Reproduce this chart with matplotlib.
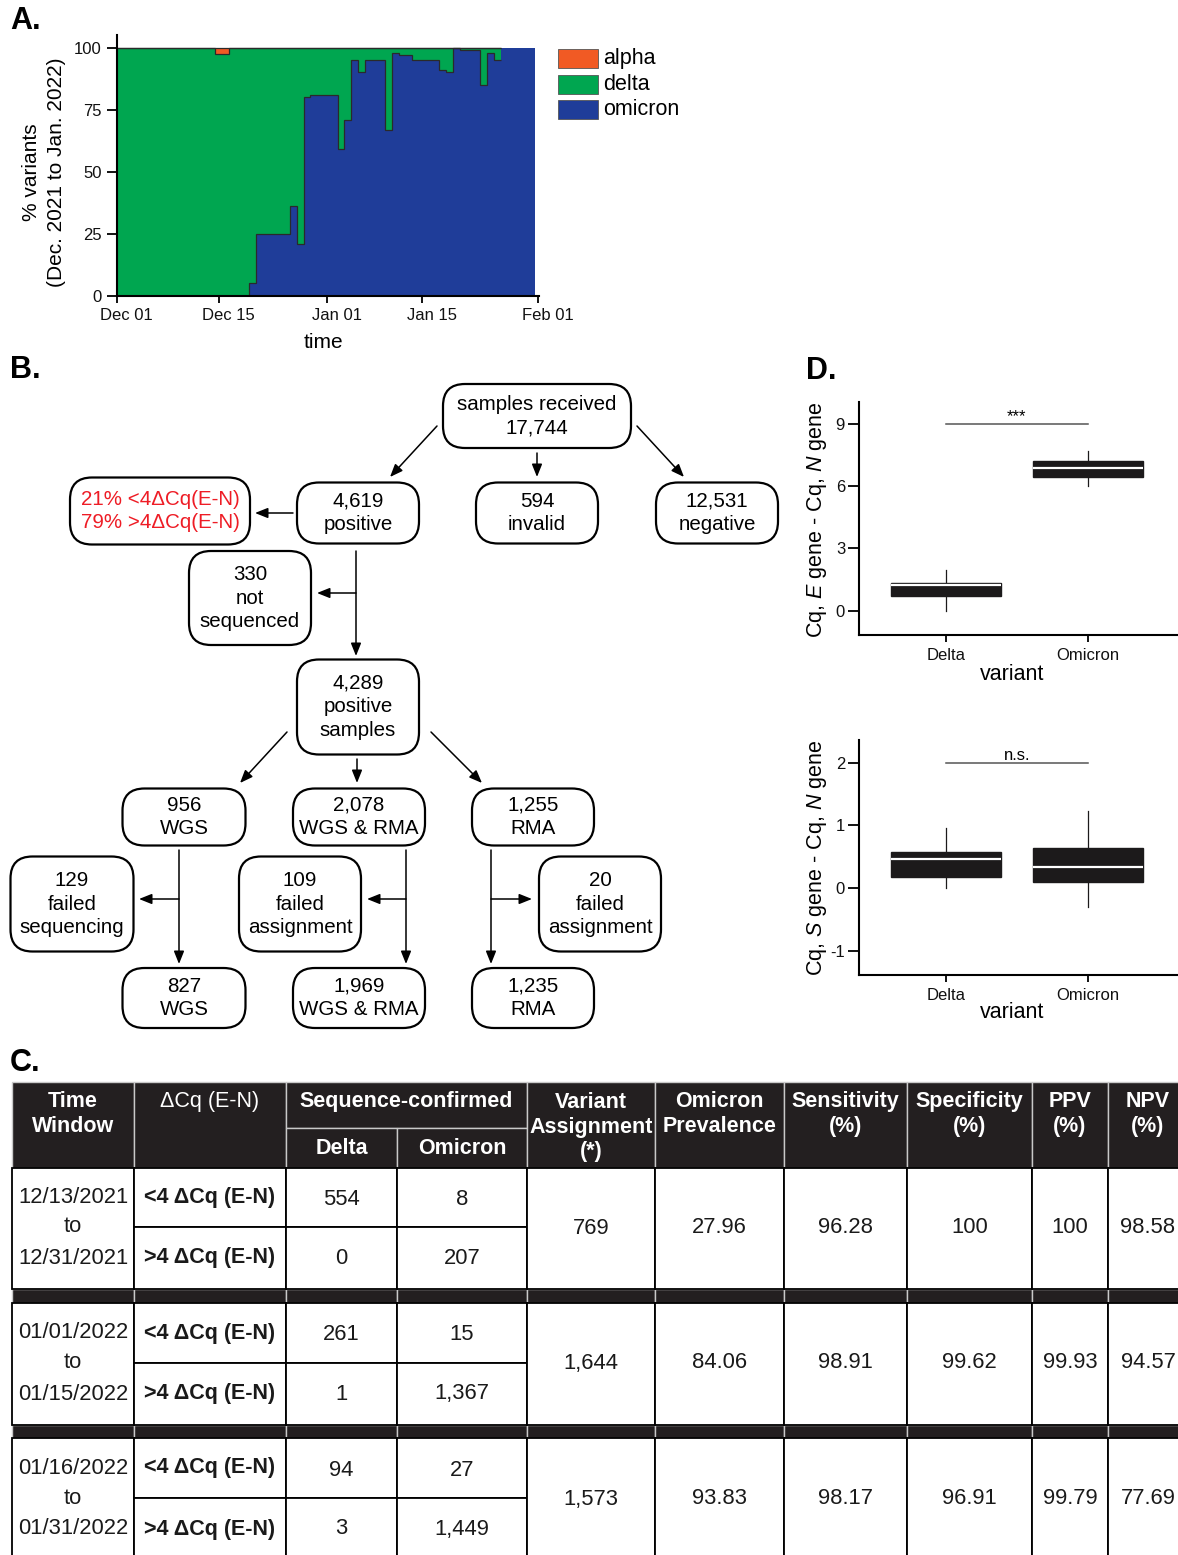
import matplotlib

matplotlib.use("Agg")
import matplotlib.pyplot as plt
import numpy as np
from matplotlib.patches import FancyBboxPatch, Rectangle
from matplotlib.transforms import ScaledTranslation

plt.rcParams["font.family"] = ["Liberation Sans", "DejaVu Sans"]
plt.rcParams["mathtext.fontset"] = "custom"
plt.rcParams["mathtext.rm"] = "Liberation Sans"
plt.rcParams["mathtext.it"] = "Liberation Sans:italic"
plt.rcParams["axes.unicode_minus"] = False

W, H = 1178, 1555

# ---------------- panel A: daily variant share (%), days since Dec 01
day_ticks = [0, 15, 31, 45, 62]
day_labels = ["Dec 01", "Dec 15", "Jan 01", "Jan 15", "Feb 01"]
omicron_pct = np.array([
    0, 0, 0, 0, 0, 0, 0, 0, 0, 0,
    0, 0, 0, 0, 0, 0, 0, 0, 0, 0,
    5, 25, 25, 25, 25, 25, 36, 21, 80, 81,
    81, 81, 81, 59, 71, 95, 90, 95, 95, 95,
    67, 98, 97, 97, 95, 95, 95, 95, 91, 90,
    100, 99, 99, 99, 85, 98, 95, 100, 100, 100,
    100, 100,
], dtype=float)
alpha_pct = np.array([
    0, 0, 0, 0, 0, 0, 0, 0, 0, 0,
    0, 0, 0, 0, 0, 2.7, 2.7, 0, 0, 0,
    0, 0, 0, 0, 0, 0, 0, 0, 0, 0,
    0, 0, 0, 0, 0, 0, 0, 0, 0, 0,
    0, 0, 0, 0, 0, 0, 0, 0, 0, 0,
    0, 0, 0, 0, 0, 0, 0, 0, 0, 0,
    0, 0,
], dtype=float)
delta_pct = 100 - omicron_pct - alpha_pct
variant_names = ["alpha", "delta", "omicron"]
variant_colors = ["#F15A24", "#00A650", "#1F3D99"]

# ---------------- panel B: sample flow counts
received, positive, invalid, negative = 17744, 4619, 594, 12531
pct_low, pct_high = 21, 79
not_sequenced, pos_samples = 330, 4289
wgs, wgs_rma, rma = 956, 2078, 1255
failed_wgs, failed_both, failed_rma = 129, 109, 20
final_wgs, final_both, final_rma = 827, 1969, 1235

# ---------------- panel C: table
windows = [("12/13/2021", "12/31/2021"), ("01/01/2022", "01/15/2022"),
           ("01/16/2022", "01/31/2022")]
delta_low = [554, 261, 94]
omicron_low = [8, 15, 27]
delta_high = [0, 1, 3]
omicron_high = [207, 1367, 1449]
assigned = [769, 1644, 1573]
prevalence = [27.96, 84.06, 93.83]
sensitivity = [96.28, 98.91, 98.17]
specificity = [100, 99.62, 96.91]
ppv = [100, 99.93, 99.79]
npv = [98.58, 94.57, 77.69]

# ---------------- panel D: box statistics (q1, median, q3, whisker lo, whisker hi)
box_variants = ["Delta", "Omicron"]
en_stats = [(0.71, 1.22, 1.35, 0.0, 1.96), (6.46, 6.88, 7.22, 6.01, 7.72)]
sn_stats = [(0.18, 0.455, 0.58, 0.0, 0.95), (0.10, 0.33, 0.635, -0.31, 1.23)]


fig = plt.figure(figsize=(W / 100, H / 100), dpi=100)
ov = fig.add_axes([0, 0, 1, 1])
ov.set_xlim(0, W)
ov.set_ylim(H, 0)
ov.axis("off")


def px_axes(x0, y0, x1, y1):
    return fig.add_axes([x0 / W, 1 - y1 / H, (x1 - x0) / W, (y1 - y0) / H])


def style_spines(ax):
    for s in ("top", "right"):
        ax.spines[s].set_visible(False)
    for s in ("left", "bottom"):
        ax.spines[s].set_linewidth(1.5)
    ax.tick_params(direction="out", width=1.4, labelsize=12, colors="#111")


# ---- A
axA = px_axes(116.7, 35, 539.3, 295.7)
edges = np.concatenate([[0], np.arange(len(omicron_pct)) + 0.5])
top = omicron_pct + delta_pct
axA.stairs(omicron_pct, edges, baseline=0, fill=True, color=variant_colors[2], lw=0)
axA.stairs(top, edges, baseline=omicron_pct, fill=True, color=variant_colors[1], lw=0)
axA.stairs(top + alpha_pct, edges, baseline=top, fill=True, color=variant_colors[0], lw=0)
n_out = 57
for vals in (omicron_pct, top, top + alpha_pct):
    axA.stairs(vals[:n_out], edges[:n_out + 1], baseline=None, color="#2a2a2a", lw=0.9)
axA.set_xlim(0, 62.2)
axA.set_ylim(0, 105.1)
axA.set_xticks(day_ticks, day_labels)
axA.set_yticks([0, 25, 50, 75, 100])
style_spines(axA)
axA.tick_params(axis="y", length=7, pad=4)
axA.tick_params(axis="x", length=5, pad=4)
# tick labels in the source sit a little right of their ticks
shift = ScaledTranslation(0.10, 0, fig.dpi_scale_trans)
for lab in axA.get_xticklabels():
    lab.set_transform(lab.get_transform() + shift)

ov.text(44, 172, "% variants\n(Dec. 2021 to Jan. 2022)", rotation=90,
        ha="center", va="center", fontsize=15, linespacing=1.45)
ov.text(323, 342, "time", ha="center", va="center", fontsize=15)
for i, (name, col) in enumerate(zip(variant_names, variant_colors)):
    y = 49 + i * 25.5
    ov.add_patch(Rectangle((558, y), 40, 19, fc=col, ec="#555", lw=0.6))
    ov.text(603, y + 9.5, name, ha="left", va="center", fontsize=15.5)

# ---- D
def box_panel(ax, stats, ylim, yticks, sig_y, sig_text):
    bx = [dict(q1=q1, med=m, q3=q3, whislo=lo, whishi=hi, fliers=[])
          for q1, m, q3, lo, hi in stats]
    ax.bxp(bx, positions=[1, 2], widths=0.77, patch_artist=True, showcaps=False,
           showfliers=False,
           boxprops=dict(facecolor="#1c1a1b", edgecolor="#1c1a1b", lw=1),
           medianprops=dict(color="white", lw=1.6),
           whiskerprops=dict(color="#1c1a1b", lw=0.9))
    ax.plot([1, 2], [sig_y, sig_y], color="#555", lw=1.1)
    ax.text(1.5, sig_y, sig_text, ha="center", va="bottom", fontsize=12)
    ax.set_xlim(0.39, 2.63)
    ax.set_ylim(*ylim)
    ax.set_yticks(yticks)
    ax.set_xticks([1, 2], box_variants)
    style_spines(ax)
    ax.tick_params(axis="y", length=8, pad=2)
    ax.tick_params(axis="x", length=5, pad=4)


axD1 = px_axes(859, 402, 1177.8, 635.2)
box_panel(axD1, en_stats, (-1.18, 10.06), [0, 3, 6, 9], 9, "***")
axD2 = px_axes(859, 740.1, 1177.8, 975.1)
box_panel(axD2, sn_stats, (-1.39, 2.36), [-1, 0, 1, 2], 2, "n.s.")
ov.text(817, 520, r"Cq, $\mathit{E}$ gene - Cq, $\mathit{N}$ gene", rotation=90,
        ha="center", va="center", fontsize=15.5)
ov.text(817, 858, r"Cq, $\mathit{S}$ gene - Cq, $\mathit{N}$ gene", rotation=90,
        ha="center", va="center", fontsize=15.5)
ov.text(1012, 674, "variant", ha="center", va="center", fontsize=15.5)
ov.text(1012, 1013, "variant", ha="center", va="center", fontsize=15.5)

# ---- B flowchart
def node(cx, cy, w, h, text, color="black"):
    ov.add_patch(FancyBboxPatch((cx - w / 2, cy - h / 2), w, h,
                                boxstyle="round,pad=0,rounding_size=22",
                                fc="white", ec="black", lw=1.6))
    ov.text(cx, cy, text, ha="center", va="center", fontsize=14.8,
            color=color, linespacing=1.32)


def arrow(x0, y0, x1, y1):
    ov.annotate("", xy=(x1, y1), xytext=(x0, y0),
                arrowprops=dict(arrowstyle="-|>,head_length=0.55,head_width=0.22",
                                color="black", lw=1.1, shrinkA=0, shrinkB=0,
                                mutation_scale=14))


node(537, 416, 188, 64, f"samples received\n{received:,}")
node(358, 513, 122, 61, f"{positive:,}\npositive")
node(537, 513, 122, 61, f"{invalid:,}\ninvalid")
node(717, 513, 122, 61, f"{negative:,}\nnegative")
node(160, 511, 180, 67, f"{pct_low}% <4ΔCq(E-N)\n{pct_high}% >4ΔCq(E-N)", color="#EE1C25")
node(250, 598, 122, 94, f"{not_sequenced:,}\nnot\nsequenced")
node(358, 707, 122, 95, f"{pos_samples:,}\npositive\nsamples")
node(184, 817, 123, 57, f"{wgs:,}\nWGS")
node(359, 817, 132, 57, f"{wgs_rma:,}\nWGS & RMA")
node(533, 817, 122, 57, f"{rma:,}\nRMA")
node(72, 904, 123, 95, f"{failed_wgs:,}\nfailed\nsequencing")
node(300, 904, 122, 95, f"{failed_both:,}\nfailed\nassignment")
node(600, 904, 122, 95, f"{failed_rma:,}\nfailed\nassignment")
node(184, 998, 123, 60, f"{final_wgs:,}\nWGS")
node(359, 998, 132, 60, f"{final_both:,}\nWGS & RMA")
node(533, 998, 122, 60, f"{final_rma:,}\nRMA")

arrow(437, 426, 390, 477)
arrow(537, 453, 537, 477)
arrow(637, 426, 684, 477)
arrow(293, 513, 255, 513)
arrow(356, 551, 356, 656)
arrow(356, 593, 317, 593)
arrow(287, 732, 240, 783)
arrow(357, 759, 357, 783)
arrow(431, 732, 482, 783)
for tx, bx_ in ((179, 139), (406, 367), (491, 532)):
    arrow(tx, 850, tx, 964)
    arrow(tx, 899, bx_, 899)

# ---- C table
cols = [12, 134, 286, 397, 527, 655, 784, 907, 1032, 1108, 1188]
DARK = "#231f20"


def cell(x0, x1, y0, y1, dark=False):
    ov.add_patch(Rectangle((x0, y0), x1 - x0, y1 - y0,
                           fc=DARK if dark else "white",
                           ec="#c9c9c9" if dark else "black",
                           lw=1.0 if dark else 1.3))


def htext(x, y, s, bold=True):
    ov.text(x, y, s, ha="center", va="center", color="white", fontsize=15.5,
            fontweight="bold" if bold else "normal", linespacing=1.2)


def ctr(i, j=None):
    j = i + 1 if j is None else j
    return (cols[i] + cols[j]) / 2


hy0, hym, hy1 = 1082, 1128, 1168
cell(cols[0], cols[1], hy0, hy1, True)
cell(cols[1], cols[2], hy0, hy1, True)
cell(cols[2], cols[4], hy0, hym, True)
cell(cols[2], cols[3], hym, hy1, True)
cell(cols[3], cols[4], hym, hy1, True)
for i in range(4, 10):
    cell(cols[i], cols[i + 1], hy0, hy1, True)
htext(ctr(0), 1114, "Time\nWindow")
htext(ctr(1), 1101, "ΔCq (E-N)", bold=False)
htext(ctr(2, 4), 1101, "Sequence-confirmed")
htext(ctr(2), 1149, "Delta")
htext(ctr(3), 1149, "Omicron")
htext(ctr(4), 1127, "Variant\nAssignment\n(*)")
htext(ctr(5), 1114, "Omicron\nPrevalence")
htext(ctr(6), 1114, "Sensitivity\n(%)")
htext(ctr(7), 1114, "Specificity\n(%)")
htext(ctr(8), 1114, "PPV\n(%)")
htext(ctr(9), 1114, "NPV\n(%)")

groups = [(1168, 1227, 1289), (1303, 1363, 1425), (1438, 1498, 1560)]
bands = [(1289, 1303), (1425, 1438)]
for b0, b1 in bands:
    for i in range(10):
        cell(cols[i], cols[i + 1], b0, b1, True)


def btext(x, y, s, bold=False):
    ov.text(x, y, s, ha="center", va="center", fontsize=15.5 if bold else 15.8,
            fontweight="bold" if bold else "normal", color="#1a1a1a")


for g, (ya, ym, yb) in enumerate(groups):
    r0, r1 = (ya + ym) / 2, (ym + yb) / 2
    gc = (ya + yb) / 2
    cell(cols[0], cols[1], ya, yb)
    for i in (1, 2, 3):
        cell(cols[i], cols[i + 1], ya, ym)
        cell(cols[i], cols[i + 1], ym, yb)
    for i in range(4, 10):
        cell(cols[i], cols[i + 1], ya, yb)
    btext(ctr(0), r0, windows[g][0])
    btext(ctr(0), ym, "to")
    btext(ctr(0), r1, windows[g][1])
    btext(ctr(1), r0, "<4 ΔCq (E-N)", bold=True)
    btext(ctr(1), r1, ">4 ΔCq (E-N)", bold=True)
    btext(ctr(2), r0 + 2, f"{delta_low[g]:,}")
    btext(ctr(3), r0 + 2, f"{omicron_low[g]:,}")
    btext(ctr(2), r1, f"{delta_high[g]:,}")
    btext(ctr(3), r1, f"{omicron_high[g]:,}")
    btext(ctr(4), gc, f"{assigned[g]:,}")
    for i, vals in zip(range(5, 10), (prevalence, sensitivity, specificity, ppv, npv)):
        btext(ctr(i), gc - 1, f"{vals[g]:g}")

# ---- panel letters
for lab, x, y in (("A.", 10, 21), ("B.", 10, 370), ("C.", 10, 1063), ("D.", 806, 371)):
    ov.text(x, y, lab, fontsize=22, fontweight="bold", ha="left", va="center")

fig.savefig("out.png", dpi=100)
